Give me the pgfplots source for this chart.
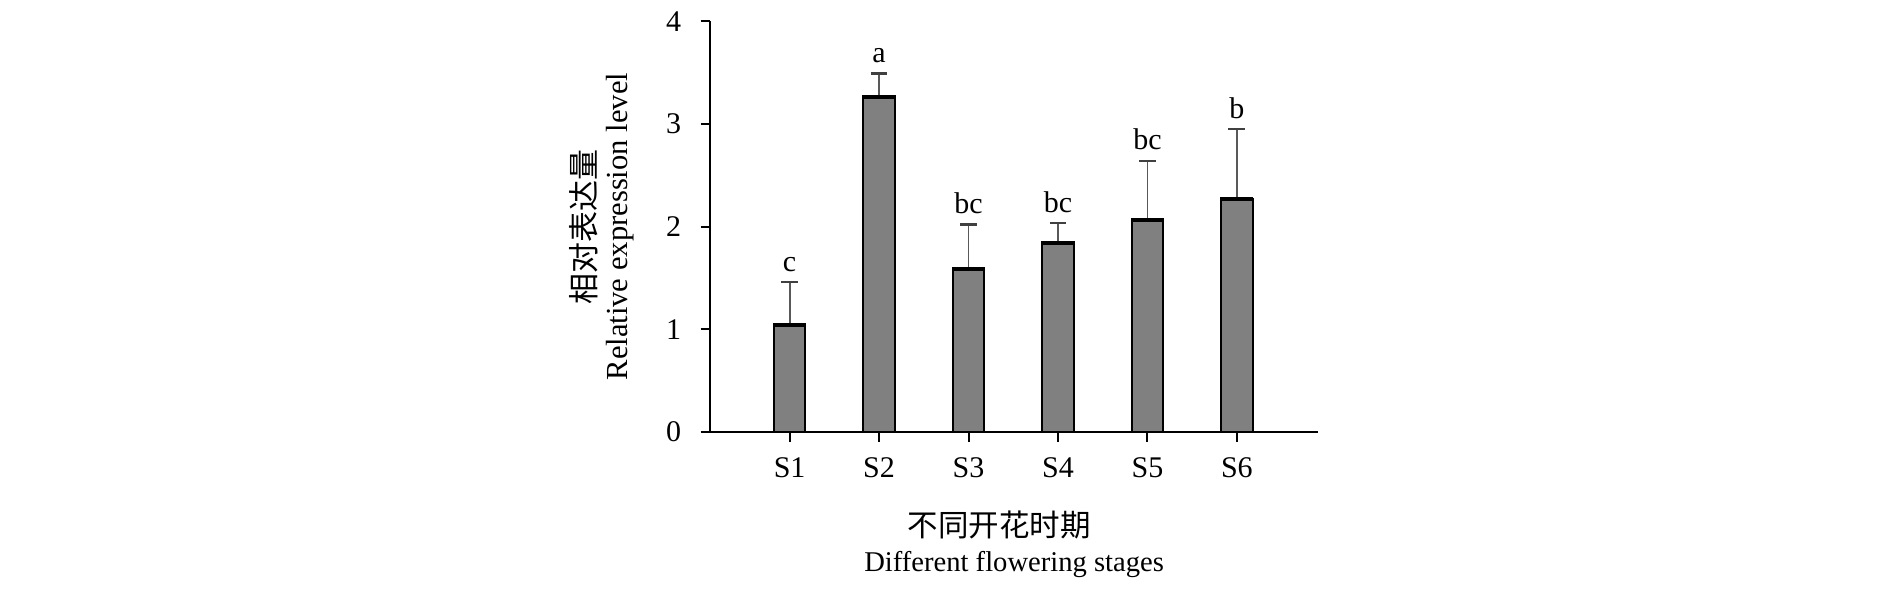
\documentclass[border=0pt]{standalone}
\usepackage{fontspec}
\setmainfont{Liberation Serif}
\newfontfamily\cjk{Noto Sans CJK SC}
\usepackage{pgfplots}
\pgfplotsset{compat=1.18}
\usepackage{pgfplotstable}

\pgfplotstableread{
x y e t l
1 1.04 0.42 1.46 c
2 3.26 0.23 3.49 a
3 1.59 0.43 2.02 bc
4 1.84 0.195 2.035 bc
5 2.06 0.58 2.64 bc
6 2.265 0.685 2.95 b
}\data

\begin{document}
\begin{tikzpicture}
\path[use as bounding box] (0,0) rectangle (945pt,298pt);
\begin{axis}[
  at={(355pt,82pt)}, anchor=south west,
  width=304.15pt, height=205.4pt, scale only axis,
  xmin=0.11, xmax=6.91, ymin=0, ymax=4,
  axis x line=bottom, axis y line=left,
  x axis line style={-, line width=1.4pt},
  y axis line style={-, line width=1pt},
  tick align=outside, major tick length=4.75pt,
  tick style={black, line width=1pt},
  xtick={1,2,3,4,5,6}, xticklabels={S1,S2,S3,S4,S5,S6},
  ytick={0,1,2,3,4}, minor tick num=0,
  font=\fontsize{15pt}{18pt}\selectfont,
  /pgf/number format/assume math mode=true,
  yticklabel style={anchor=east, inner sep=0pt, xshift=-9.5pt},
  xticklabel style={anchor=north, inner sep=0pt, yshift=-8pt},
  xlabel={{\cjk\fontsize{15.25pt}{18pt}\selectfont 不同开花时期}\kern15pt\\Different flowering stages},
  xlabel style={align=center, inner sep=0pt, at={(axis description cs:0.5,0)}, anchor=north, yshift=-39pt, font=\fontsize{14.3pt}{17.9pt}\selectfont},
  ylabel={{\cjk\fontsize{15.5pt}{16pt}\selectfont 相对表达量}\\Relative expression level},
  ylabel style={align=center, inner sep=0pt, at={([xshift=-37.7pt]axis description cs:0,0.5)}, anchor=south, font=\fontsize{15.3pt}{16pt}\selectfont},
  bar width=15.65pt,
  clip=false,
]
\addplot[ybar, fill=black!50, draw=black, line width=1pt,
  error bars/.cd, y dir=plus, y explicit,
  error bar style={line width=0.9pt, black!65},
  error mark options={rotate=90, mark size=4.2pt, line width=1.1pt, black!75}]
  table[x=x, y=y, y error=e] {\data};
\addplot[only marks, mark=-, mark size=8.3pt, mark options={line width=2pt, black}]
  table[x=x, y=y] {\data};
\addplot[draw=none, mark=none, nodes near coords, point meta=explicit symbolic,
  every node near coord/.append style={anchor=base, inner sep=0pt, yshift=5.5pt, font=\fontsize{15pt}{18pt}\selectfont}]
  table[x=x, y=t, meta=l] {\data};
\end{axis}
\end{tikzpicture}
\end{document}
